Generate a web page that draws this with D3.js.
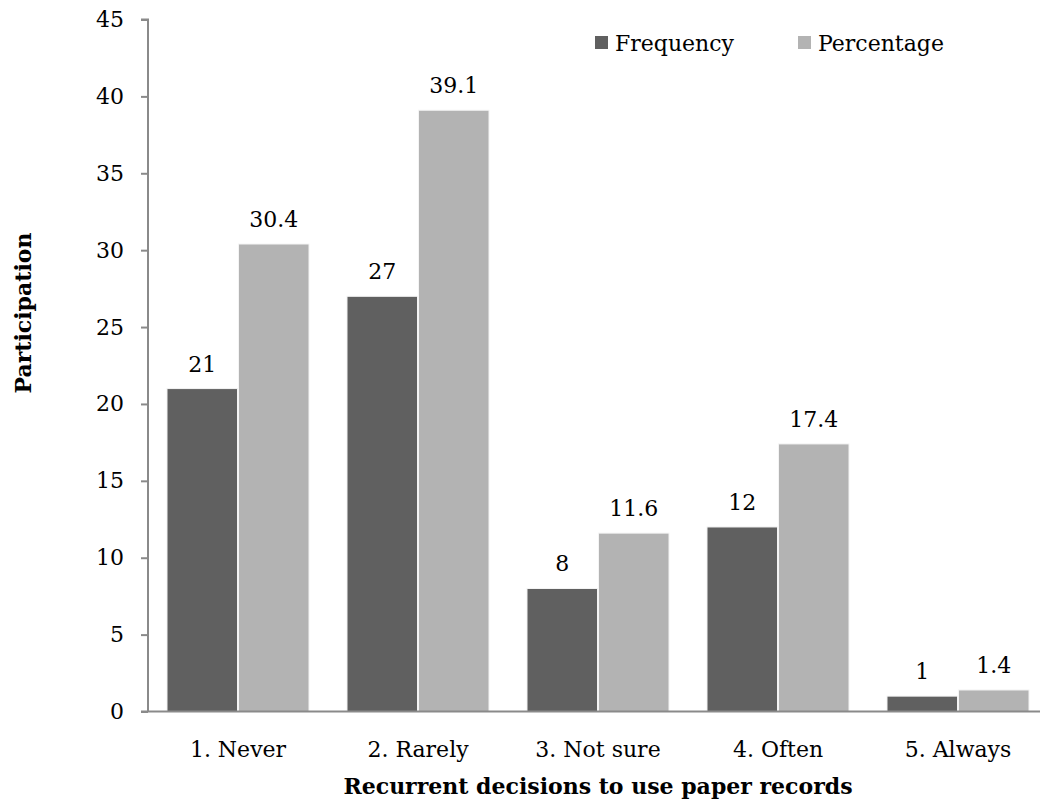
<!DOCTYPE html>
<html>
<head>
<meta charset="utf-8">
<script src="https://cdn.jsdelivr.net/npm/d3@7"></script>
<style>
  html, body { margin: 0; padding: 0; background: #fff; }
  svg { display: block; }
  text { font-family: "DejaVu Serif", serif; fill: #000; }
</style>
</head>
<body>
<svg id="chart" width="1040" height="801"></svg>
<script>
const categories = ["1. Never", "2. Rarely", "3. Not sure", "4. Often", "5. Always"];
const seriesNames = ["Frequency", "Percentage"];
const frequency = [21, 27, 8, 12, 1];
const percentage = [30.4, 39.1, 11.6, 17.4, 1.4];
const valueLabels = [["21", "27", "8", "12", "1"], ["30.4", "39.1", "11.6", "17.4", "1.4"]];
const yTicks = [0, 5, 10, 15, 20, 25, 30, 35, 40, 45];
const colors = ["#606060", "#b3b3b3"];

const svg = d3.select("#chart");
const x0 = 148, x1 = 1048, yTop = 19.5, yBottom = 711.5;

const x = d3.scaleBand().domain(categories).range([x0, x1]).paddingInner(0.211).paddingOuter(0.1055);
const xs = d3.scaleBand().domain(seriesNames).range([0, x.bandwidth()]).paddingInner(0.014);
const y = d3.scaleLinear().domain([0, 45]).range([yBottom, yTop]);

const series = [frequency, percentage];

// bars
const g = svg.append("g");
seriesNames.forEach((name, si) => {
  g.selectAll(".bar" + si)
    .data(categories)
    .enter().append("rect")
    .attr("x", c => x(c) + xs(name))
    .attr("y", (c, i) => y(series[si][i]))
    .attr("width", xs.bandwidth())
    .attr("height", (c, i) => y(0) - y(series[si][i]))
    .attr("fill", colors[si])
    .attr("stroke", "#f4f4f4")
    .attr("stroke-width", 1);
  g.selectAll(".lab" + si)
    .data(categories)
    .enter().append("text")
    .attr("x", c => x(c) + xs(name) + xs.bandwidth() / 2)
    .attr("y", (c, i) => y(series[si][i]) - 17)
    .attr("text-anchor", "middle")
    .attr("font-size", 22)
    .text((c, i) => valueLabels[si][i]);
});

// y axis
const yAxis = d3.axisLeft(y).tickValues(yTicks).tickSize(7).tickPadding(17).tickFormat(d3.format("d"));
const ya = svg.append("g").attr("transform", `translate(${x0},0)`).call(yAxis);
ya.select(".domain").attr("stroke", "#8a8a8a").attr("stroke-width", 2).attr("d", `M-7,${yTop}H0V${yBottom}`);
ya.selectAll(".tick line").attr("stroke", "#8a8a8a").attr("stroke-width", 2);
ya.selectAll(".tick text").attr("font-size", 22).attr("font-family", "DejaVu Serif").attr("fill", "#000");

// x axis
const xAxis = d3.axisBottom(x).tickSize(0).tickPadding(30);
const xa = svg.append("g").attr("transform", `translate(0,${yBottom})`).call(xAxis);
xa.select(".domain").attr("stroke", "#8a8a8a").attr("stroke-width", 2).attr("d", `M${x0 - 7},0H${x1}`);
xa.selectAll(".tick text").attr("font-size", 22).attr("font-family", "DejaVu Serif").attr("fill", "#000");

// axis titles
svg.append("text")
  .attr("x", 598).attr("y", 794)
  .attr("text-anchor", "middle")
  .attr("font-size", 22).attr("font-weight", "bold")
  .text("Recurrent decisions to use paper records");
svg.append("text")
  .attr("transform", "translate(31,313) rotate(-90)")
  .attr("text-anchor", "middle")
  .attr("font-size", 22).attr("font-weight", "bold")
  .text("Participation");

// legend
const legendX = [595, 798];
seriesNames.forEach((name, si) => {
  svg.append("rect").attr("x", legendX[si]).attr("y", 36).attr("width", 13).attr("height", 13).attr("fill", colors[si]);
  svg.append("text").attr("x", legendX[si] + 20).attr("y", 51).attr("font-size", 22).text(name);
});
</script>
</body>
</html>
